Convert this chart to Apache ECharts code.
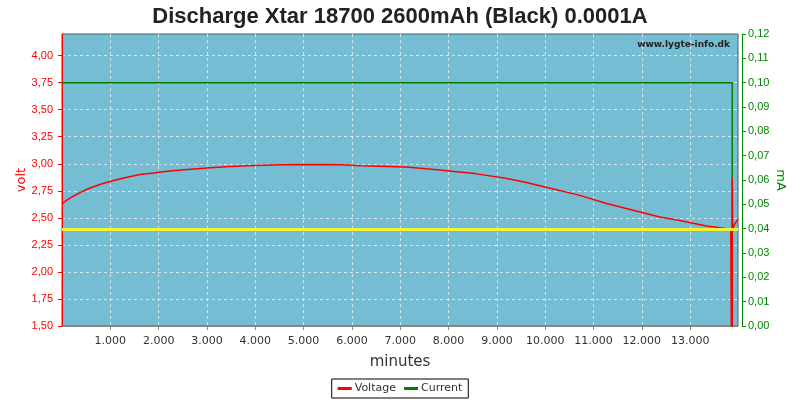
<!DOCTYPE html>
<html>
<head>
<meta charset="utf-8">
<script src="https://cdn.jsdelivr.net/npm/echarts@6/dist/echarts.min.js"></script>
<style>html,body{margin:0;padding:0;background:#fff}#c{width:800px;height:400px}</style>
</head>
<body>
<div id="c"></div>
<script>
const titleText = 'Discharge Xtar 18700 2600mAh (Black) 0.0001A';
const voltageMinutes = [0, 120, 234, 400, 580, 800, 1028, 1300, 1614, 1900, 2220, 2600, 2994, 3400, 3822, 4546, 5200, 5787, 6166, 6628, 7186, 7766, 8167, 8546, 9152, 9615, 10166, 10718, 11270, 11821, 12373, 12787, 13339, 13840, 13870, 13870, 13870, 13880, 13920, 13990];
const voltageValues  = [2.63, 2.67, 2.70, 2.74, 2.776, 2.81, 2.84, 2.87, 2.90, 2.915, 2.933, 2.948, 2.96, 2.972, 2.982, 2.992, 2.993, 2.99, 2.982, 2.976, 2.967, 2.945, 2.927, 2.909, 2.868, 2.826, 2.767, 2.708, 2.632, 2.570, 2.508, 2.475, 2.425, 2.395, 2.39, 0, 2.87, 2.40, 2.44, 2.49];
const currentMinutes = [0, 13870, 13870];
const currentValues  = [0.1, 0.1, 0];
const markVoltage = 2.39;

const chart = echarts.init(document.getElementById('c'));
const fmt2 = v => v.toFixed(2).replace('.', ',');
const gridLine = {show: true, showMinLine: false, showMaxLine: false, lineStyle: {color: 'rgba(255,255,255,0.65)', type: [3, 3]}};
chart.setOption({
  animation: false,
  backgroundColor: '#fff',
  title: {
    text: titleText, left: 'center', top: 1,
    textStyle: {fontFamily: 'Liberation Sans', fontWeight: 'bold', fontSize: 22, color: '#222'}
  },
  graphic: [{
    type: 'text', right: 70, top: 40,
    style: {text: 'www.lygte-info.dk', font: 'bold 9px "DejaVu Sans"', fill: '#222'}
  }],
  legend: {
    bottom: 2, left: 'center',
    data: ['Voltage', 'Current'],
    borderColor: '#000', borderWidth: 1, padding: [4, 6, 4, 6], itemGap: 8,
    itemWidth: 14, itemHeight: 3, icon: 'rect',
    textStyle: {fontFamily: 'DejaVu Sans', fontSize: 11, color: '#333', padding: [0,0,0,-2]}
  },
  grid: {left: 62, right: 62, top: 34, bottom: 74, show: true, backgroundColor: '#75bdd3', borderColor: '#4d5f66', borderWidth: 1},
  xAxis: {
    type: 'value', min: 0, max: 13990, interval: 1000, offset: 4,
    name: 'minutes', nameLocation: 'middle', nameGap: 25, nameMoveOverlap: false,
    nameTextStyle: {fontFamily: 'DejaVu Sans', fontSize: 15, color: '#333'},
    axisLine: {show: true, lineStyle: {color: '#888'}},
    axisTick: {show: true, length: 4, lineStyle: {color: '#888'}},
    axisLabel: {showMinLabel: false, showMaxLabel: false, color: '#333', fontFamily: 'DejaVu Sans', fontSize: 11, margin: 6,
      formatter: v => (v/1000).toFixed(3)},
    splitLine: gridLine
  },
  yAxis: [{
    type: 'value', min: 1.5, max: 4.2, interval: 0.25, offset: 3, position: 'left',
    name: 'volt', nameLocation: 'middle', nameGap: 31, nameMoveOverlap: false,
    nameTextStyle: {fontFamily: 'DejaVu Sans', fontSize: 13, color: '#f00'},
    axisLine: {show: true, lineStyle: {color: '#f00'}},
    axisTick: {show: true, length: 4, lineStyle: {color: '#f00'}},
    axisLabel: {showMaxLabel: false, color: '#f00', fontFamily: 'Liberation Sans', fontSize: 11, margin: 6, formatter: fmt2},
    splitLine: gridLine
  }, {
    type: 'value', min: 0, max: 0.12, interval: 0.01, offset: 4, position: 'right',
    name: 'mA', nameLocation: 'middle', nameGap: 32, nameRotate: -90, nameMoveOverlap: false,
    nameTextStyle: {fontFamily: 'DejaVu Sans', fontSize: 13, color: '#080'},
    axisLine: {show: true, lineStyle: {color: '#080'}},
    axisTick: {show: true, length: 4, lineStyle: {color: '#080'}},
    axisLabel: {color: '#080', fontFamily: 'Liberation Sans', fontSize: 11, margin: 6, formatter: fmt2},
    splitLine: {show: false}
  }],
  series: [{
    name: 'Current', type: 'line', yAxisIndex: 1, showSymbol: false,
    data: currentMinutes.map((m, i) => [m, currentValues[i]]),
    lineStyle: {color: '#008000', width: 1.5}, itemStyle: {color: '#008000'}
  }, {
    name: 'Voltage', type: 'line', yAxisIndex: 0, showSymbol: false,
    data: voltageMinutes.map((m, i) => [m, voltageValues[i]]),
    lineStyle: {color: '#f00', width: 1.5}, itemStyle: {color: '#f00'},
    markLine: {
      silent: true, symbol: 'none', label: {show: false},
      lineStyle: {color: '#f2f230', width: 3, type: 'solid'},
      data: [{yAxis: markVoltage}]
    }
  }]
});
</script>
</body>
</html>
